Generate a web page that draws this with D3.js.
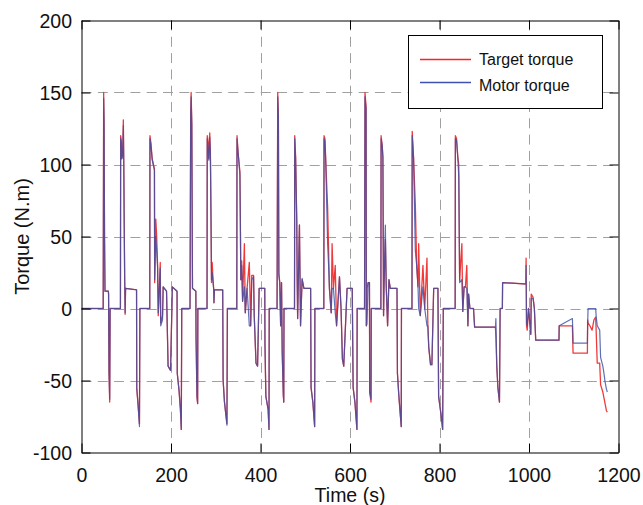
<!DOCTYPE html>
<html>
<head>
<meta charset="utf-8">
<script src="https://cdn.jsdelivr.net/npm/d3@7"></script>
<style>
  html, body { margin: 0; padding: 0; background: #fff; }
  svg { display: block; font-family: "Liberation Sans", Arial, Helvetica, sans-serif; }
</style>
</head>
<body>
<svg id="chart" width="643" height="505"></svg>
<script>
// ---- data ----
const xTicks = [0, 200, 400, 600, 800, 1000, 1200];
const yTicks = [-100, -50, 0, 50, 100, 150, 200];
const seriesNames = ["Target torque", "Motor torque"];

const time = [
  0, 48.5, 49.5, 50.5, 51.5, 52.5, 60, 60.5, 61.5, 63, 64,
  87, 87.5, 89, 90, 92, 93.5, 94.5, 95.5, 96.5, 97.5, 98.5, 123, 123.5, 126, 129.5, 130.5,
  152.5, 153, 155, 158, 163, 163.5, 166, 168, 170, 171.5, 176, 177, 181, 182.5, 190, 193.5, 199, 203, 213.5, 214, 218, 221, 223, 224,
  242.5, 244, 245, 246.5, 248, 255.5, 256, 258, 259.5, 260,
  280.5, 281, 283, 284.5, 286.5, 288, 289.5, 290.5, 292, 294, 295.5, 296, 297, 315.5, 316.5, 319.5, 325, 326,
  347, 347.5, 350, 354, 355, 356, 358, 360, 364, 366, 370, 375, 378, 380.5, 384.5, 386, 390, 393.5, 397, 409.5, 410, 412, 417, 419, 419.5,
  437, 438.5, 440, 441, 443, 445, 447, 448.5, 451, 452, 452.5,
  476, 476.5, 478.5, 481, 482, 483, 487, 489.5, 493, 497, 512, 513, 517, 521, 521.5,
  541.5, 542, 544, 545.5, 550, 552, 554, 558, 560, 563, 567, 570, 576.5, 580, 583, 586, 593.5, 605, 607, 611, 615.5, 616,
  632.5, 633.5, 636, 636.5, 638, 640.5, 643.5, 644, 647, 647.5,
  669, 669.5, 672, 673.5, 675, 676, 679, 681, 684, 687, 690, 705, 706, 709, 714.5, 715,
  738.5, 739, 742, 746, 749, 752, 753.5, 757, 763, 767, 772, 774, 776, 780, 783, 787, 796.5, 798, 804, 807, 808.5,
  835, 835.5, 838, 841, 843, 845, 850, 852, 855, 858, 861, 863.5, 865, 868, 876, 878.5, 925, 926, 928, 930.5, 934, 935.5, 940.5, 941,
  993, 993.5, 994.5, 996, 999, 1004, 1005, 1009, 1012, 1015, 1067, 1067.5, 1097, 1098.5, 1130.5,
  1131, 1132, 1136, 1141, 1145, 1149, 1150, 1152.5, 1158, 1160, 1165, 1167.5, 1170, 1173, 1175
];

const targetTorque = [
  0, 0, 150, 130, 48, 12, 12, 10, -45, -65, 0,
  0, 120, 116, 104, 108, 131, 100, 58, 20, -4, 14, 13, -56, -65, -80, 0,
  0, 120, 115, 104, 97, 18, 62, 50, 30, -5, 32, -10, -5, 15, 12, -40, -43, 15, 12, -45, -57, -70, -84, 0,
  0, 135, 150, 128, 14, 12, -20, -62, -66, 0,
  0, 120, 115, 104, 122, 110, 60, 18, 32, 20, 13, 4, 13, 13, -50, -65, -80, 0,
  0, 120, 108, 95, 61, 20, 33, 5, 45, -3, 14, 32, -12, 23, 23, -5, -38, -40, 14, 14, -25, -61, -70, -84, 0,
  0, 150, 135, 25, 18, -12, 18, -30, -60, -65, 0,
  0, 120, 105, 62, 20, -7, 58, -12, 20, 14, 14, -55, -65, -82, 0,
  0, 120, 118, 105, 70, 43, 14, -3, 45, 14, 30, -12, 22, 0, -35, -40, 14, 14, -55, -65, -84, 0,
  0, 150, 140, -12, 14, 18, 18, -58, -65, 0,
  0, 120, 113, 105, -5, 15, 48, 15, -12, 20, 14, 14, -45, -60, -82, 0,
  0, 123, 105, 72, 30, 15, 45, -5, 30, 0, 35, -12, -27, -39, -39, 14, 14, -61, -75, -84, 0,
  0, 120, 118, 105, 100, 20, 45, -2, 15, 15, 30, -12, 10, 0, 0, -13, -13, -20, -40, -55, -65, 0, 0, 18,
  17, 35, -12, -15, 0, -18, 10, 8, 0, -22, -22, -12, -12, -31, -31,
  -8, -10, -12, -15, -8, -6, -15, -38, -38, -53, -58, -62, -66, -71, -72
];

const motorTorque = [
  0, 0, 146, 128, 48, 12, 12, 10, -44, -63, 0,
  0, 118, 115, 104, 106, 127, 100, 57, 20, -3, 14, 13, -55, -65, -82, 0,
  0, 118, 114, 103, 96, 20, 50, 40, 29, -3, 28, -12, -8, 15, 12, -40, -43, 15, 12, -45, -57, -70, -84, 0,
  0, 132, 147, 128, 14, 12, -20, -60, -66, 0,
  0, 118, 110, 103, 119, 108, 59, 20, 25, 18, 13, 4, 13, 13, -50, -65, -81, 0,
  0, 118, 108, 93, 60, 20, 30, 5, 15, -3, 14, -12, -12, 20, 22, -5, -38, -40, 14, 14, -25, -61, -70, -84, 0,
  0, 147, 133, 23, 18, -12, 18, -30, -60, -65, 0,
  0, 118, 104, 60, 20, -7, 58, -12, 21, 14, 14, -55, -65, -82, 0,
  0, 118, 116, 105, 45, 31, 14, -3, 14, 14, -3, -12, 22, 0, -35, -40, 14, 14, -55, -65, -84, 0,
  0, 147, 138, -12, -11, 18, 18, -58, -63, 0,
  0, 118, 113, 105, -5, 15, 58, 15, -12, 20, 14, 14, -45, -60, -82, 0,
  0, 120, 105, 40, 30, 15, 0, -5, 15, 0, -12, -12, -27, -39, -39, 14, 14, -61, -75, -84, 0,
  0, 118, 117, 104, 92, 18, 20, -2, 15, 15, 14, -12, 10, 0, 0, -13, -13, -7, -40, -55, -65, 0, 0, 18,
  17, 30, -10, -12, 0, -18, 7, 7, 0, -22, -22, -12, -7, -24, -24,
  -12, 0, 0, 0, 0, 0, -5, -12, -15, -34, -40, -45, -51, -56, -58
];

// ---- layout ----
const svg = d3.select("#chart");
const L = 81.5, R = 618.5, T = 20.5, B = 452.5;
const x = d3.scaleLinear().domain([0, 1200]).range([L, R]);
const y = d3.scaleLinear().domain([-100, 200]).range([B, T]);
const fmt = d => String(d);

// grid
const grid = svg.append("g").attr("stroke", "#a0a0a0").attr("stroke-width", 1)
  .attr("stroke-dasharray", "10,6.3");
xTicks.filter(d => d > 0 && d < 1200).forEach(d => {
  grid.append("line").attr("x1", Math.round(x(d)) + 0.5).attr("x2", Math.round(x(d)) + 0.5)
    .attr("y1", T).attr("y2", B);
});
yTicks.filter(d => d > -100 && d < 200).forEach(d => {
  grid.append("line").attr("y1", Math.round(y(d)) + 0.5).attr("y2", Math.round(y(d)) + 0.5)
    .attr("x1", L).attr("x2", R);
});

// data lines
const rows = time.map((t, i) => ({ t, a: targetTorque[i], b: motorTorque[i] }));
svg.append("clipPath").attr("id", "clip").append("rect")
  .attr("x", L).attr("y", T).attr("width", R - L).attr("height", B - T);
const plot = svg.append("g").attr("clip-path", "url(#clip)");
plot.append("path").datum(rows)
  .attr("fill", "none").attr("stroke", "#f03a3a").attr("stroke-width", 1.3)
  .attr("stroke-linejoin", "round")
  .attr("d", d3.line().x(d => x(d.t)).y(d => y(d.a)));
plot.append("path").datum(rows)
  .attr("fill", "none").attr("stroke", "#3b4fa6").attr("stroke-width", 1.2)
  .attr("stroke-opacity", 0.82).attr("stroke-linejoin", "round")
  .attr("d", d3.line().x(d => x(d.t)).y(d => y(d.b)));

// axes (MATLAB style box with inward ticks)
const tickLen = 9;
const axB = svg.append("g").attr("transform", `translate(0,${B})`)
  .call(d3.axisBottom(x).tickValues(xTicks).tickSizeInner(-tickLen).tickSizeOuter(0).tickPadding(0).tickFormat(fmt));
const axT = svg.append("g").attr("transform", `translate(0,${T})`)
  .call(d3.axisTop(x).tickValues(xTicks).tickSizeInner(-tickLen).tickSizeOuter(0).tickFormat(""));
const axL = svg.append("g").attr("transform", `translate(${L},0)`)
  .call(d3.axisLeft(y).tickValues(yTicks).tickSizeInner(-tickLen).tickSizeOuter(0).tickPadding(0).tickFormat(fmt));
const axR = svg.append("g").attr("transform", `translate(${R},0)`)
  .call(d3.axisRight(y).tickValues(yTicks).tickSizeInner(-tickLen).tickSizeOuter(0).tickFormat(""));
[axB, axT, axL, axR].forEach(g => {
  g.select(".domain").attr("stroke", "#000").attr("stroke-width", 1);
  g.selectAll(".tick line").attr("stroke", "#000").attr("stroke-width", 1);
  g.selectAll("text").attr("font-family", null);
});
axB.selectAll(".tick text").attr("font-size", 19.5).attr("fill", "#111")
  .attr("dy", null).attr("y", 29);
axL.selectAll(".tick text").attr("font-size", 19.5).attr("fill", "#111")
  .attr("x", -9.5).attr("dy", "0.35em");

// axis titles
svg.append("text").attr("x", 350).attr("y", 502).attr("text-anchor", "middle")
  .attr("font-size", 19.5).attr("fill", "#111").text("Time (s)");
svg.append("text").attr("transform", `translate(29,${(T + B) / 2}) rotate(-90)`)
  .attr("text-anchor", "middle").attr("font-size", 20).attr("fill", "#111").text("Torque (N.m)");

// legend
const lg = svg.append("g");
lg.append("rect").attr("x", 408.5).attr("y", 35.5).attr("width", 194).attr("height", 73)
  .attr("fill", "#ffffff").attr("stroke", "#000").attr("stroke-width", 1);
const legendColors = ["#ff2020", "#3f52b0"];
const legendY = [59.5, 82.5];
seriesNames.forEach((name, i) => {
  lg.append("rect").attr("x", 420).attr("y", legendY[i] - 0.75).attr("width", 51).attr("height", 1.5)
    .attr("fill", legendColors[i]);
  lg.append("text").attr("x", 479).attr("y", legendY[i] + 5.5 + i * 3)
    .attr("font-size", 16).attr("fill", "#111").text(name);
});
</script>
</body>
</html>
